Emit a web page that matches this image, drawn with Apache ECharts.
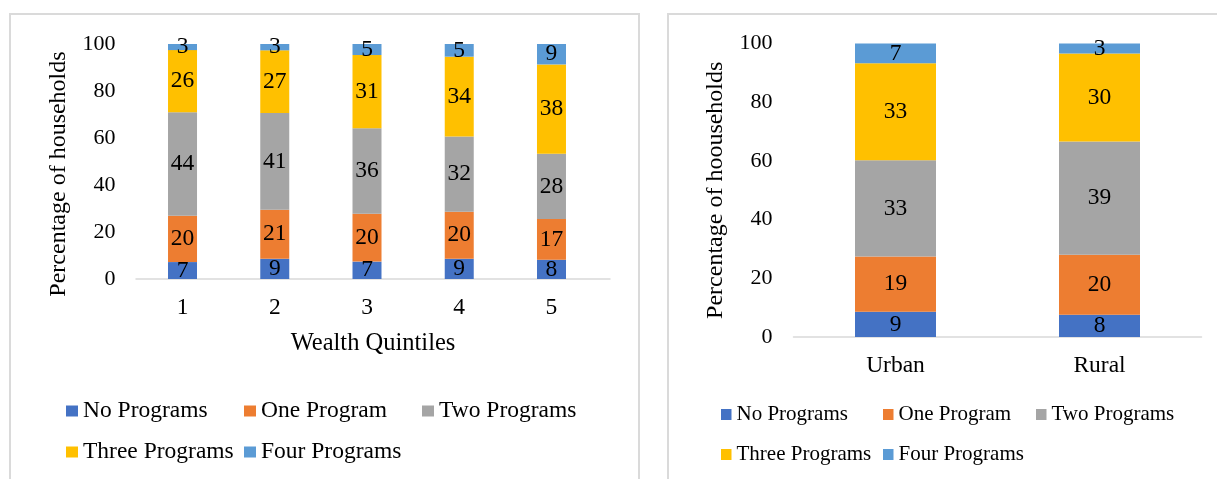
<!DOCTYPE html>
<html>
<head>
<meta charset="utf-8">
<script src="https://cdn.jsdelivr.net/npm/echarts@6/dist/echarts.min.js"></script>
<style>
  html, body { margin: 0; padding: 0; background: #fff; }
  #chart { width: 1217px; height: 479px; }
</style>
</head>
<body>
<div id="chart"></div>
<script>
// ---- Data ----
const seriesNames = ['No Programs', 'One Program', 'Two Programs', 'Three Programs', 'Four Programs'];
const seriesColors = ['#4472C4', '#ED7D31', '#A5A5A5', '#FFC000', '#5B9BD5'];

// Left panel: wealth quintiles
const quintiles = ['1', '2', '3', '4', '5'];
const noProgramsQ    = [7.2, 8.6, 7.4, 8.6, 8.2];
const oneProgramQ    = [19.7, 20.9, 20.4, 20.0, 17.3];
const twoProgramsQ   = [44.1, 41.1, 36.3, 32.0, 27.8];
const threeProgramsQ = [26.4, 26.7, 31.2, 34.0, 38.0];
const fourProgramsQ  = [2.6, 2.7, 4.7, 5.4, 8.7];

// Right panel: residence
const residence = ['Urban', 'Rural'];
const noProgramsR    = [8.6, 7.6];
const oneProgramR    = [18.8, 20.4];
const twoProgramsR   = [32.8, 38.6];
const threeProgramsR = [33.1, 30.0];
const fourProgramsR  = [6.7, 3.4];

const leftTitle = 'Percentage of households';
const rightTitle = 'Percentage of hoouseholds';
const leftXName = 'Wealth Quintiles';

// ---- Styling ----
const FONT = "'Liberation Serif', 'Times New Roman', serif";
const AXIS_GRAY = '#d9d9d9';

const leftData = [noProgramsQ, oneProgramQ, twoProgramsQ, threeProgramsQ, fourProgramsQ];
const rightData = [noProgramsR, oneProgramR, twoProgramsR, threeProgramsR, fourProgramsR];

function yAxisCfg(gridIndex, name, gap, pad) {
  return {
    type: 'value', gridIndex: gridIndex, min: 0, max: 100, interval: 20,
    splitLine: { show: false }, axisLine: { show: false }, axisTick: { show: false },
    axisLabel: { fontFamily: FONT, fontSize: 22, color: '#000', margin: 21 },
    name: name, nameLocation: 'middle', nameGap: gap, nameRotate: 90,
    nameTextStyle: { fontFamily: FONT, fontSize: 24, color: '#000', padding: pad }
  };
}

const series = [];
seriesNames.forEach((n, i) => {
  series.push({
    name: n, type: 'bar', stack: 'left', xAxisIndex: 0, yAxisIndex: 0,
    data: leftData[i], barWidth: 29,
    itemStyle: { color: seriesColors[i] },
    label: { show: true, position: 'inside', fontFamily: FONT, fontSize: 23.5, color: '#000',
             formatter: p => Math.round(p.value) }
  });
});
seriesNames.forEach((n, i) => {
  series.push({
    name: n, type: 'bar', stack: 'right', xAxisIndex: 2, yAxisIndex: 2,
    data: rightData[i], barWidth: 81,
    itemStyle: { color: seriesColors[i] },
    label: { show: true, position: 'inside', fontFamily: FONT, fontSize: 23.5, color: '#000',
             formatter: p => Math.round(p.value) }
  });
});

function legendItem(name, left, centerY, fontSize, iw, ih) {
  const lh = Math.round(fontSize + 1);
  return {
    data: [name], left: left, top: centerY - lh / 2, padding: 0,
    itemWidth: iw, itemHeight: ih, icon: 'rect', selectedMode: false,
    textStyle: { fontFamily: FONT, fontSize: fontSize, color: '#000', lineHeight: lh }
  };
}

const legends = [
  legendItem('No Programs', 66, 411, 23.5, 12, 11),
  legendItem('One Program', 244, 411, 23.5, 12, 11),
  legendItem('Two Programs', 422, 411, 23.5, 12, 11),
  legendItem('Three Programs', 66, 452, 23.5, 12, 11),
  legendItem('Four Programs', 244, 452, 23.5, 12, 11),
  legendItem('No Programs', 721, 414.5, 21, 10.5, 11),
  legendItem('One Program', 883, 414.5, 21, 10.5, 11),
  legendItem('Two Programs', 1036, 414.5, 21, 10.5, 11),
  legendItem('Three Programs', 721, 454.5, 21, 10.5, 11),
  legendItem('Four Programs', 883, 454.5, 21, 10.5, 11)
];

const option = {
  animation: false,
  backgroundColor: '#fff',
  color: seriesColors,
  graphic: [
    { type: 'rect', shape: { x: 10, y: 14, width: 629, height: 480 },
      style: { fill: 'none', stroke: '#dadada', lineWidth: 2 }, silent: true, z: -1 },
    { type: 'rect', shape: { x: 668, y: 14, width: 560, height: 480 },
      style: { fill: 'none', stroke: '#dadada', lineWidth: 2 }, silent: true, z: -1 }
  ],
  legend: legends,
  grid: [
    { left: 136.4, right: 1217 - 597.6, top: 44, bottom: 479 - 279 },
    { left: 136, right: 1217 - 610, top: 44, bottom: 479 - 279 },
    { left: 793.5, right: 1217 - 1201.5, top: 43.5, bottom: 479 - 337 }
  ],
  xAxis: [
    { type: 'category', gridIndex: 0, data: quintiles,
      axisLine: { show: false }, axisTick: { show: false },
      axisLabel: { fontFamily: FONT, fontSize: 23.5, color: '#000', margin: 17 } },
    { type: 'value', gridIndex: 1, min: 0, max: 1,
      axisLine: { show: true, lineStyle: { color: AXIS_GRAY, width: 1.5 } },
      axisTick: { show: false }, axisLabel: { show: false }, splitLine: { show: false },
      name: leftXName, nameLocation: 'middle', nameGap: 52.5,
      nameTextStyle: { fontFamily: FONT, fontSize: 24.5, color: '#000' } },
    { type: 'category', gridIndex: 2, data: residence,
      axisLine: { show: true, lineStyle: { color: AXIS_GRAY, width: 1.5 } }, axisTick: { show: false },
      axisLabel: { fontFamily: FONT, fontSize: 23.5, color: '#000', margin: 16.5 } }
  ],
  yAxis: [
    yAxisCfg(0, leftTitle, 66, [0, 25, 0, 0]),
    { type: 'value', gridIndex: 1, show: false, min: 0, max: 1 },
    yAxisCfg(2, rightTitle, 66, 0)
  ],
  series: series
};

const chart = echarts.init(document.getElementById('chart'), null, { renderer: 'canvas' });
chart.setOption(option);
</script>
</body>
</html>
